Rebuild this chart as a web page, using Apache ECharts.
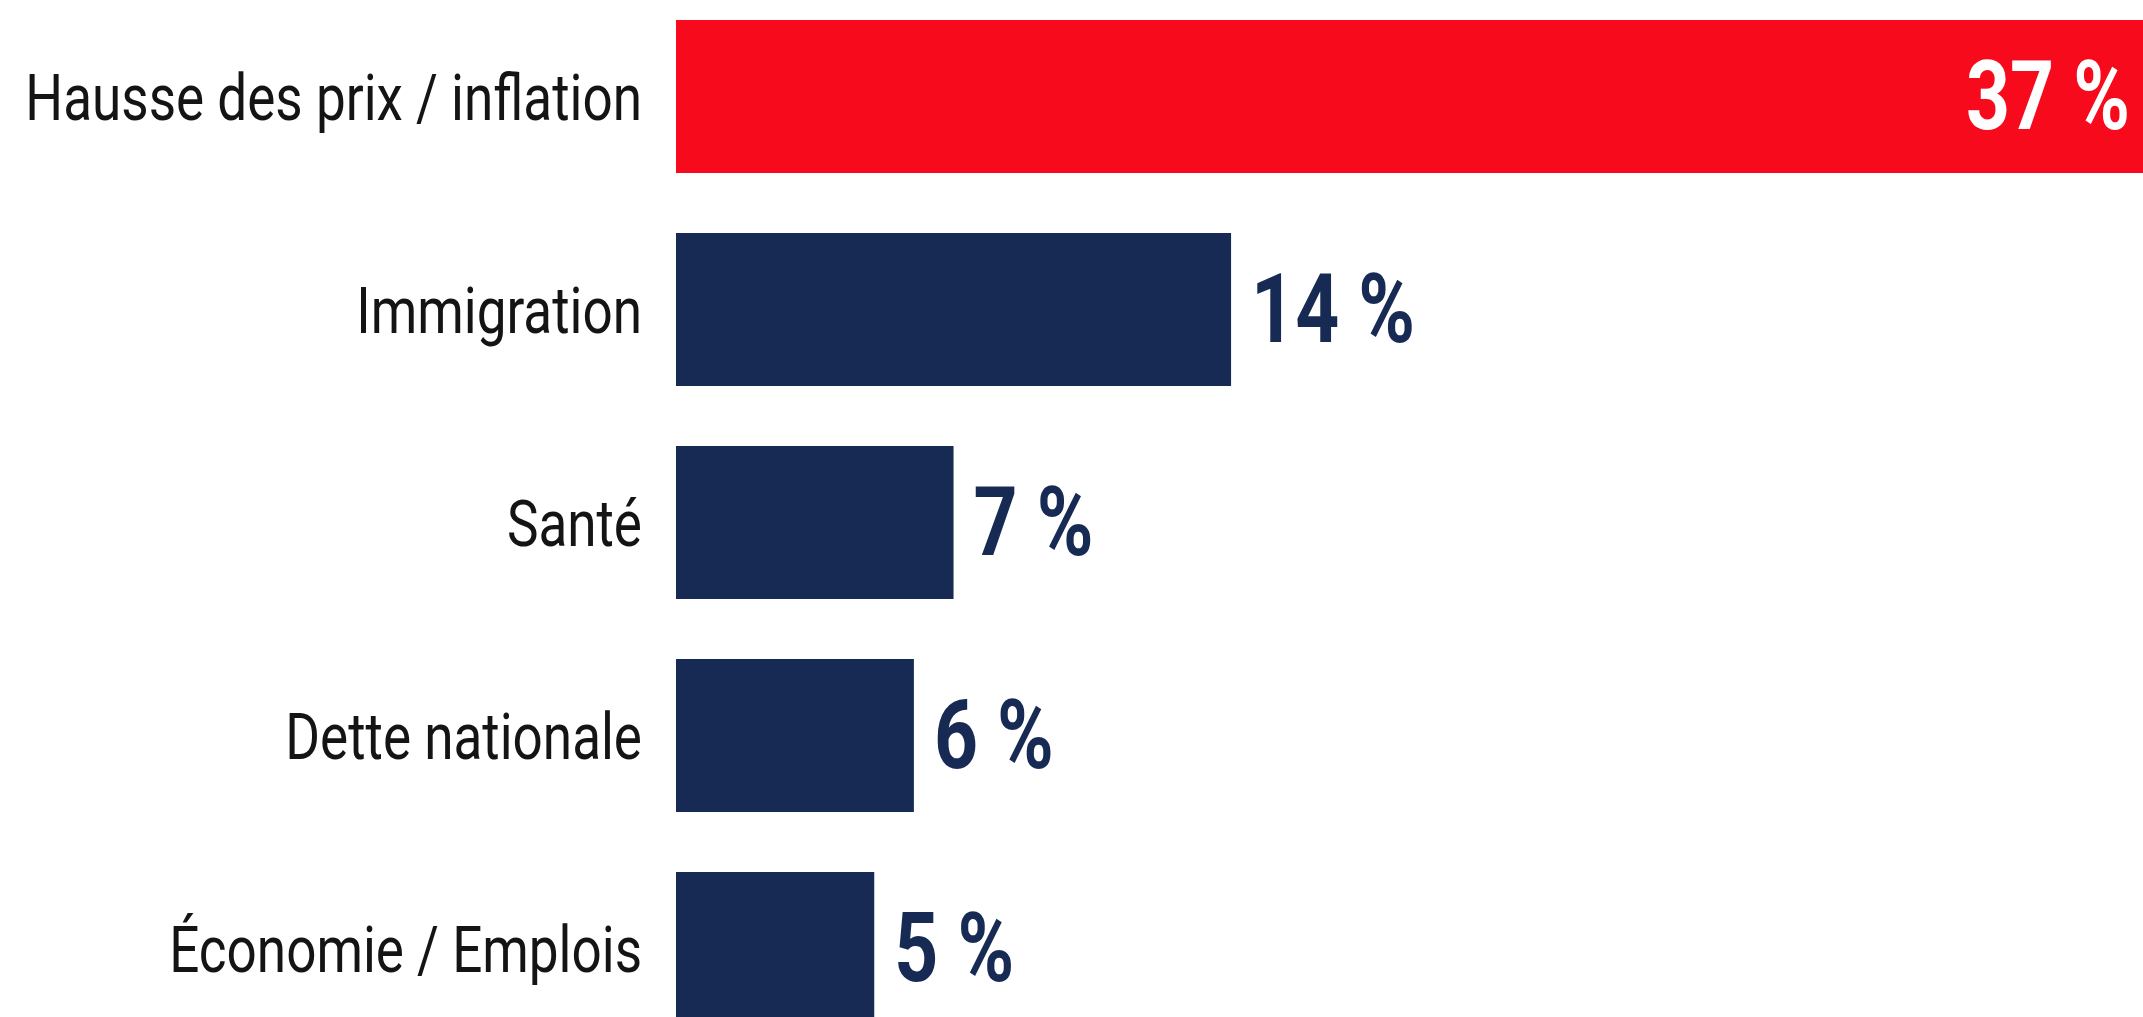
<!DOCTYPE html>
<html>
<head>
<meta charset="utf-8">
<script src="https://cdn.jsdelivr.net/npm/echarts@6/dist/echarts.min.js"></script>
<style>
html,body{margin:0;padding:0;background:#ffffff;}
#chart{width:2143px;height:1017px;}
</style>
</head>
<body>
<div id="chart"></div>
<script>
const categories = ['Hausse des prix / inflation', 'Immigration', 'Santé', 'Dette nationale', 'Économie / Emplois'];
const values = [37, 14, 7, 6, 5];
const highlightIndex = 0;

const RED = '#f70a1b';
const NAVY = '#172a54';
const chart = echarts.init(document.getElementById('chart'));

chart.setOption({
  backgroundColor: '#ffffff',
  animation: false,
  grid: { left: 676, right: 0, top: -10, bottom: -38, containLabel: false, outerBoundsMode: 'none' },
  xAxis: { type: 'value', min: 0, max: 37, show: false },
  yAxis: {
    type: 'category',
    data: categories,
    inverse: true,
    axisLine: { show: false },
    axisTick: { show: false },
    axisLabel: { show: false }
  },
  series: [{
    type: 'bar',
    barWidth: 153,
    data: values.map((v, i) => ({
      value: v,
      itemStyle: { color: i === highlightIndex ? RED : NAVY }
    }))
  }, {
    type: 'custom',
    clip: false,
    z: 5,
    data: values.map((v, i) => [v, categories[i]]),
    encode: { x: 0, y: 1 },
    renderItem: function (params, api) {
      const i = params.dataIndex;
      const v = api.value(0);
      const cat = categories[i];
      const start = api.coord([0, cat]);
      const end = api.coord([v, cat]);
      const inside = i === highlightIndex;
      return {
        type: 'group',
        children: [{
          type: 'text',
          x: start[0] - 34,
          y: start[1] + 7,
          scaleX: 0.816,
          style: {
            text: cat,
            font: '400 65px Roboto, sans-serif',
            fill: '#141414',
            align: 'right',
            verticalAlign: 'middle'
          }
        }, {
          type: 'text',
          x: inside ? end[0] - 13 : end[0] + 20,
          y: start[1] + 8,
          scaleX: 0.8,
          style: {
            text: v + ' %',
            font: '700 96px Roboto, sans-serif',
            fill: inside ? '#ffffff' : NAVY,
            align: inside ? 'right' : 'left',
            verticalAlign: 'middle'
          }
        }]
      };
    }
  }]
});
</script>
</body>
</html>
